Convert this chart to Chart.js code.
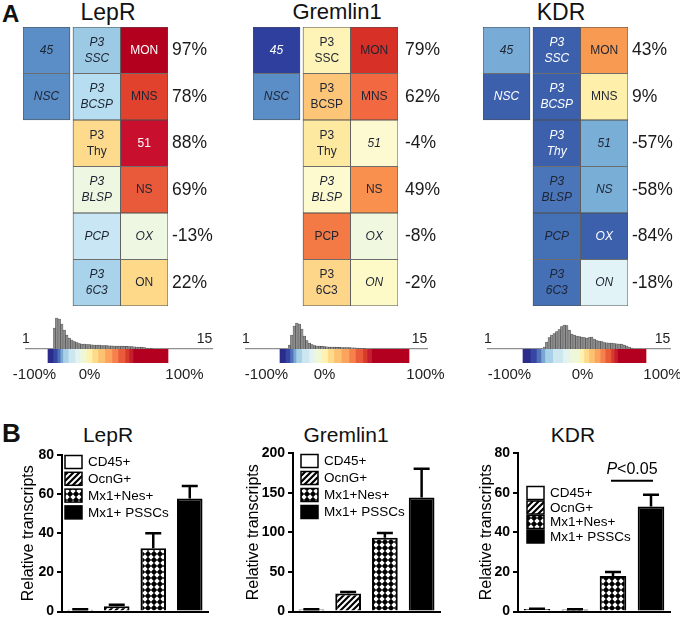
<!DOCTYPE html>
<html>
<head>
<meta charset="utf-8">
<script src="https://cdn.jsdelivr.net/npm/chart.js@4.4.0/dist/chart.umd.min.js"></script>
<style>
body { margin: 0; width: 680px; height: 623px; overflow: hidden; background: #fff; position: relative;
       font-family: "Liberation Sans", Arial, sans-serif; color: #111; }
canvas, .t { position: absolute; }
.t { line-height: 1; white-space: nowrap; }
.c { transform: translateX(-50%); }
</style>
</head>
<body>
<div class="t" style="left:2px;top:2px;font-size:24px;font-weight:bold">A</div>
<div class="t c" style="left:108px;top:1px;font-size:23px">LepR</div>
<div class="t c" style="left:337px;top:1px;font-size:22px">Gremlin1</div>
<div class="t c" style="left:561px;top:1px;font-size:23px">KDR</div>
<div class="t" style="left:2px;top:420px;font-size:26px;font-weight:bold">B</div>
<div class="t c" style="left:108px;top:424px;font-size:21px">LepR</div>
<div class="t c" style="left:346px;top:424px;font-size:21px">Gremlin1</div>
<div class="t c" style="left:573px;top:424px;font-size:21px">KDR</div>
<script>
const FONT = '"Liberation Sans", Arial, sans-serif';
Chart.defaults.font.family = FONT;

// ---- panel A: heatmaps ----
const rowLabels = ['r1', 'r2', 'r3', 'r4', 'r5', 'r6'];
const cellText = [
    ['45', 'NSC'],
    ['P3\nSSC', 'P3\nBCSP', 'P3\nThy', 'P3\nBLSP', 'PCP', 'P3\n6C3'],
    ['MON', 'MNS', '51', 'NS', 'OX', 'ON']
];
const lepPct = ['97%', '78%', '88%', '69%', '-13%', '22%'];
const gremPct = ['79%', '62%', '-4%', '49%', '-8%', '-2%'];
const kdrPct = ['43%', '9%', '-57%', '-58%', '-84%', '-18%'];

const lepColors = [
    ['#5b8ec6', '#5a8cc5'],
    ['#9ccae4', '#b7def0', '#fedb8c', '#eef7e2', '#c8e6f3', '#a8d3ea'],
    ['#b3001e', '#e0422e', '#c8102e', '#e85a3a', '#eef7e2', '#fed98a']
];
const gremColors = [
    ['#2f3f9d', '#5b8ec6'],
    ['#fef4b8', '#fdc578', '#fee9a0', '#fefad0', '#f47a45', '#fed68a'],
    ['#d73027', '#f26841', '#fdfad2', '#f9904d', '#f1f8e0', '#fefac8']
];
const kdrColors = [
    ['#78acd6', '#3d60ad'],
    ['#3d60ad', '#3d60ad', '#3d60ad', '#4a75b8', '#4470b5', '#4570b5'],
    ['#f99a52', '#feefaa', '#79aed7', '#79aed7', '#3d60ad', '#e2f3f8']
];
const lepItalic = [[1, 1], [1, 1, 0, 1, 1, 1], [0, 0, 0, 0, 1, 0]];
const gremItalic = [[1, 1], [0, 0, 0, 1, 0, 0], [0, 0, 1, 0, 1, 1]];
const kdrItalic = [[1, 1], [1, 1, 1, 1, 1, 1], [0, 0, 1, 1, 1, 1]];

// histograms above the colour bars
const lepHist = [21, 31, 30, 25, 19, 14, 11, 9, 7.5, 6.5, 5.5, 5, 5, 4.5, 4.3, 4.2, 4, 4, 3.8,
    3.5, 3.4, 3.3, 3.2, 3.1, 3, 2.9, 2.8, 2.8, 2.7, 2.6, 2.5, 2.4, 2.2, 2, 1.8, 1.6, 1.3, 1, 0.7, 0.4];
const gremHist = [4, 14, 23, 26, 25, 20, 13, 8.5, 6, 4.5, 3.5, 3, 2.8, 2.6, 2.4, 2.2, 2, 2, 1.8,
    1.7, 1.6, 1.5, 1.5, 1.4, 1.3, 1.2, 1.1, 1, 0.8, 0.6, 0.4];
const kdrHist = [2, 7, 11.5, 14, 15.5, 17.5, 19.5, 22.5, 24, 23.5, 19, 15, 14, 13, 12.5, 12, 11.5, 11,
    11.5, 11.8, 10, 8.5, 7.8, 7.5, 6.5, 6.2, 6, 5.8, 5.3, 5.2, 5, 4.8, 3.8, 3, 2, 1];
const axisEnds = ['1', '15'];
const cbLabels = ['-100%', '0%', '100%'];
const cbColors = ['#2a2b8a', '#3646a4', '#4f72b9', '#7ba7d3', '#a8d1e7', '#cde7f1', '#e5f3f0', '#eff7d9',
    '#fff2b0', '#fedb8a', '#fdc172', '#fca35d', '#f6814c', '#ea5b3a', '#d83a2c', '#c41f2e', '#b30021'];
const blueEdges = [0, .13, .24, .32, .39, .53, .71, .84, 1];
const redEdges = [0, .073, .146, .23, .317, .39, .476, .524, .573, 1];

// ---- panel B: qPCR bars ----
const groups = ['CD45+', 'OcnG+', 'Mx1+Nes+', 'Mx1+ PSSCs'];
const lepMean = [1, 2.7, 32.3, 57.8];
const lepErr = [0.2, 0.8, 7.7, 6.4];
const gremMean = [2.5, 22.8, 93, 144];
const gremErr = [0.5, 2, 6, 36];
const kdrMean = [1.3, 1.0, 18, 53];
const kdrErr = [0.2, 0.2, 2, 6];

function addCanvas(left, top, w, h) {
    const c = document.createElement('canvas');
    c.width = w; c.height = h;
    c.style.cssText = `left:${left}px;top:${top}px;width:${w}px;height:${h}px`;
    document.body.appendChild(c);
    return c;
}

function isDark(hex) {
    const lin = k => { const v = parseInt(hex.substr(k, 2), 16) / 255; return v <= 0.04 ? v / 12.92 : Math.pow((v + 0.055) / 1.055, 2.4); };
    return 0.2126 * lin(1) + 0.7152 * lin(3) + 0.0722 * lin(5) < 0.15;
}

const COL_SPAN = [[0, 47], [50, 97.5], [97.5, 145]];

function heatmap(left, pct, colors, italic, pctPad) {
    const cv = addCanvas(left, 27, 197, 279);
    const datasets = cellText.map((col, c) => ({
        data: rowLabels.map((r, i) => i < col.length ? COL_SPAN[c].slice() : null),
        backgroundColor: colors[c],
        borderColor: '#4d4d4d',
        borderWidth: 0.8,
        borderSkipped: false,
        grouped: false,
        barPercentage: 1,
        categoryPercentage: 1
    }));
    new Chart(cv, {
        type: 'bar',
        data: { labels: rowLabels, datasets },
        options: {
            indexAxis: 'y', responsive: false, animation: false, devicePixelRatio: 1,
            layout: { padding: { right: 52 }, autoPadding: false },
            scales: { x: { type: 'linear', min: 0, max: 145, display: false }, y: { display: false } },
            plugins: { legend: { display: false }, tooltip: { enabled: false } }
        },
        plugins: [{
            id: 'cells',
            afterDatasetsDraw(chart) {
                const ctx = chart.ctx;
                ctx.save();
                ctx.textAlign = 'center';
                ctx.textBaseline = 'middle';
                chart.data.datasets.forEach((ds, c) => {
                    chart.getDatasetMeta(c).data.forEach((el, i) => {
                        if (ds.data[i] == null) return;
                        const p = el.getProps(['x', 'y', 'base'], true);
                        const cx = (p.x + p.base) / 2;
                        const lines = cellText[c][i].split('\n');
                        ctx.font = (italic[c][i] ? 'italic ' : '') + '12px ' + FONT;
                        ctx.fillStyle = isDark(colors[c][i]) ? '#fff' : '#1e2433';
                        lines.forEach((t, k) => ctx.fillText(t, cx, p.y + (k - (lines.length - 1) / 2) * 16));
                    });
                });
                ctx.textAlign = 'left';
                ctx.fillStyle = '#1a1a1a';
                ctx.font = '17.5px ' + FONT;
                pct.forEach((t, i) => ctx.fillText(t, chart.chartArea.right + pctPad, chart.scales.y.getPixelForValue(i)));
                ctx.restore();
            }
        }]
    });
}

function hist(left, counts) {
    const cv = addCanvas(left, 317, Math.round(counts.length * 2.5), 32);
    new Chart(cv, {
        type: 'bar',
        data: {
            labels: counts.map((v, i) => i),
            datasets: [{ data: counts, backgroundColor: '#8e8e8e', borderColor: '#3c3c3c', borderWidth: 0.5,
                barPercentage: 1, categoryPercentage: 1 }]
        },
        options: {
            responsive: false, animation: false, devicePixelRatio: 1,
            layout: { autoPadding: false },
            scales: { x: { display: false }, y: { display: false, min: 0, max: 32 } },
            plugins: { legend: { display: false }, tooltip: { enabled: false } }
        }
    });
}

function colorbar(baseLeft, W, cb) {
    const segs = [];
    for (let k = 0; k < 8; k++) segs.push([cb.start + (cb.zero - cb.start) * blueEdges[k], cb.start + (cb.zero - cb.start) * blueEdges[k + 1]]);
    for (let k = 0; k < 9; k++) segs.push([cb.zero + (cb.end - cb.zero) * redEdges[k], cb.zero + (cb.end - cb.zero) * redEdges[k + 1]]);
    const datasets = segs.map((s, k) => ({
        data: [s], backgroundColor: cbColors[k], borderWidth: 0, grouped: false, barPercentage: 1, categoryPercentage: 1
    }));
    datasets.push({ data: [[cb.zero - 0.5, cb.zero + 0.5]], backgroundColor: '#555', borderWidth: 0, grouped: false,
        barPercentage: 1, categoryPercentage: 1 });
    const cv = addCanvas(baseLeft - 22, 329, W + 44, 54);
    new Chart(cv, {
        type: 'bar',
        data: { labels: ['cb'], datasets },
        options: {
            indexAxis: 'y', responsive: false, animation: false, devicePixelRatio: 1,
            layout: { padding: { left: 22, right: 22 }, autoPadding: false },
            scales: {
                y: { display: false },
                x: {
                    type: 'linear', position: 'top', min: 0, max: W,
                    grid: { display: false, drawTicks: false },
                    border: { display: true, color: '#8f8f8f', width: 1.2 },
                    afterFit(s) { s.height = 20; },
                    afterBuildTicks(s) { s.ticks = [{ value: 0 }, { value: W - 7.5 }]; },
                    ticks: { autoSkip: false, maxRotation: 0, padding: 1, color: '#222', font: { size: 14 },
                        callback: (v, i) => axisEnds[i] }
                },
                x2: {
                    type: 'linear', position: 'bottom', min: 0, max: W,
                    grid: { display: false, drawTicks: false },
                    border: { display: false },
                    afterFit(s) { s.height = 20; },
                    afterBuildTicks(s) { s.ticks = [{ value: cb.start - 13.5 }, { value: cb.zero + 3.5 }, { value: cb.end + 16.5 }]; },
                    ticks: { autoSkip: false, maxRotation: 0, padding: 3, color: '#222', font: { size: 15 },
                        callback: (v, i) => cbLabels[i] }
                }
            },
            plugins: { legend: { display: false }, tooltip: { enabled: false } }
        }
    });
}

heatmap(23, lepPct, lepColors, lepItalic, 4);
heatmap(253, gremPct, gremColors, gremItalic, 7);
heatmap(483, kdrPct, kdrColors, kdrItalic, 4);

colorbar(26, 186, { start: 22, zero: 60, end: 142 });
colorbar(246, 181, { start: 34, zero: 75, end: 163 });
colorbar(488, 182, { start: 35, zero: 91, end: 158 });
hist(53, lepHist);
hist(288, gremHist);
hist(543, kdrHist);

// ---- patterns for panel B ----
function tile(draw) {
    const c = document.createElement('canvas');
    c.width = c.height = 6;
    draw(c.getContext('2d'));
    return c.getContext('2d').createPattern(c, 'repeat');
}
const hatch = tile(g => {
    g.fillStyle = '#fff'; g.fillRect(0, 0, 6, 6);
    g.strokeStyle = '#000'; g.lineWidth = 2.2;
    g.beginPath();
    g.moveTo(-1, 7); g.lineTo(7, -1);
    g.moveTo(-4, 4); g.lineTo(4, -4);
    g.moveTo(2, 10); g.lineTo(10, 2);
    g.stroke();
});
const checks = tile(g => {
    g.fillStyle = '#000'; g.fillRect(0, 0, 6, 6);
    g.fillStyle = '#fff';
    g.beginPath(); g.moveTo(3, 0.3); g.lineTo(5.7, 3); g.lineTo(3, 5.7); g.lineTo(0.3, 3); g.closePath(); g.fill();
});
const fills = ['#fff', hatch, checks, '#000'];

function barChart(cfg) {
    const cv = addCanvas(cfg.axis - cfg.yw, 440, cfg.right - cfg.axis + cfg.yw + 2, 183);
    const overlay = {
        id: 'overlay',
        afterDatasetsDraw(chart) {
            const ctx = chart.ctx, ys = chart.scales.y, area = chart.chartArea;
            const meta = chart.getDatasetMeta(0);
            ctx.save();
            ctx.strokeStyle = '#000';
            ctx.lineWidth = 2.5;
            meta.data.forEach((el, i) => {
                const top = ys.getPixelForValue(cfg.mean[i] + cfg.err[i]);
                ctx.beginPath();
                ctx.moveTo(el.x, el.y); ctx.lineTo(el.x, top);
                ctx.moveTo(el.x - 8, top); ctx.lineTo(el.x + 8, top);
                ctx.stroke();
            });
            // legend
            ctx.font = '13.5px ' + FONT;
            ctx.textBaseline = 'middle';
            groups.forEach((g, i) => {
                const x = area.left + cfg.lx, y = area.top + cfg.ly + i * cfg.lp;
                ctx.fillStyle = fills[i];
                ctx.fillRect(x, y - 6.5, 17, 13);
                ctx.lineWidth = 1.5;
                ctx.strokeRect(x, y - 6.5, 17, 13);
                ctx.fillStyle = '#000';
                ctx.fillText(g, x + 23, y + 0.5);
            });
            if (cfg.sig) {
                const a = meta.data[cfg.sig.from].x, b = meta.data[cfg.sig.to].x;
                const ly = ys.getPixelForValue(cfg.sig.line);
                ctx.lineWidth = 2;
                ctx.beginPath(); ctx.moveTo(a - 2, ly); ctx.lineTo(b + 2, ly); ctx.stroke();
                ctx.font = 'italic 16px ' + FONT;
                const w1 = ctx.measureText('P').width;
                ctx.font = '16px ' + FONT;
                const w2 = ctx.measureText(cfg.sig.text).width;
                const sx = (a + b) / 2 - (w1 + w2) / 2, sy = ys.getPixelForValue(cfg.sig.label);
                ctx.font = 'italic 16px ' + FONT;
                ctx.fillText('P', sx, sy);
                ctx.font = '16px ' + FONT;
                ctx.fillText(cfg.sig.text, sx + w1, sy);
            }
            ctx.restore();
        }
    };
    new Chart(cv, {
        type: 'bar',
        data: {
            labels: groups,
            datasets: [{ data: cfg.mean, backgroundColor: fills, borderColor: '#000', borderWidth: 2,
                barPercentage: 0.7, categoryPercentage: 1 }]
        },
        options: {
            responsive: false, animation: false, devicePixelRatio: 1,
            layout: { autoPadding: false, padding: { top: cfg.top - 440, bottom: 623 - cfg.bottom, right: 2 } },
            scales: {
                x: {
                    grid: { display: false }, ticks: { display: false },
                    border: { color: '#000', width: 2 },
                    afterFit(s) { s.height = 0; }
                },
                y: {
                    min: 0, max: cfg.max,
                    ticks: { stepSize: cfg.step, color: '#000', padding: 3, font: { size: 14, weight: 'bold' } },
                    grid: { drawOnChartArea: false, color: '#000', lineWidth: 2, tickLength: 5 },
                    border: { color: '#000', width: 2 },
                    title: { display: true, text: 'Relative transcripts', color: '#000', font: { size: 16 },
                        padding: { top: 9, bottom: 0 } },
                    afterFit(s) { s.width = cfg.yw; }
                }
            },
            plugins: { legend: { display: false }, tooltip: { enabled: false } }
        },
        plugins: [overlay]
    });
}

barChart({ axis: 62, right: 208, yw: 52, top: 455, bottom: 618, max: 80, step: 20,
    mean: lepMean, err: lepErr, lx: 3, ly: 7, lp: 16.8 });
barChart({ axis: 293, right: 440, yw: 58, top: 453, bottom: 617, max: 200, step: 50,
    mean: gremMean, err: gremErr, lx: 8, ly: 8, lp: 17 });
barChart({ axis: 518, right: 670, yw: 50, top: 453, bottom: 613, max: 80, step: 20,
    mean: kdrMean, err: kdrErr, lx: 9, ly: 40, lp: 14.5,
    sig: { from: 2, to: 3, line: 66, label: 71.5, text: '<0.05' } });
</script>
</body>
</html>
